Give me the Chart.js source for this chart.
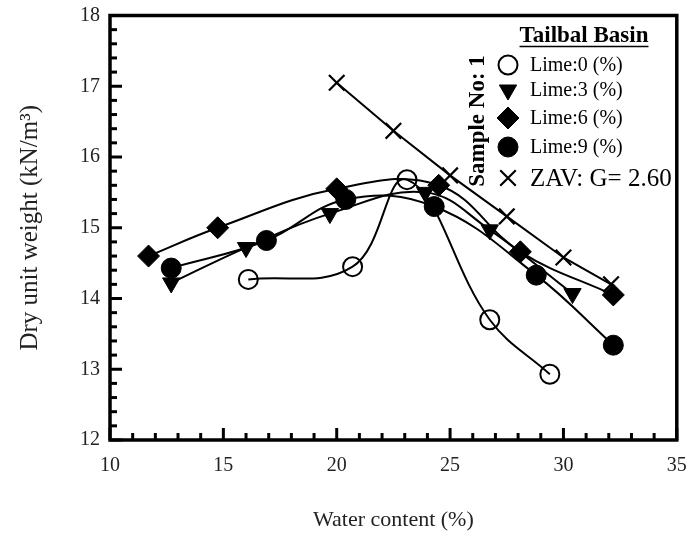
<!DOCTYPE html>
<html><head><meta charset="utf-8">
<script src="https://cdn.jsdelivr.net/npm/chart.js@4.4.1/dist/chart.umd.min.js"></script>
<style>html,body{margin:0;padding:0;background:#fff}#wrap{width:690px;height:537px;position:relative}</style>
</head><body><div id="wrap"><canvas id="c"></canvas></div>
<script>
// ---- data ----
const lime0X = [16.1, 20.7, 23.1, 26.75, 29.4];
const lime0Y = [14.27, 14.45, 15.68, 13.70, 12.93];
const lime3X = [12.7, 16.0, 19.7, 23.9, 26.75, 30.4];
const lime3Y = [14.22, 14.72, 15.2, 15.5, 14.97, 14.07];
const lime6X = [11.7, 14.75, 20.0, 24.5, 28.1, 32.2];
const lime6Y = [14.6, 15.0, 15.55, 15.6, 14.66, 14.05];
const lime9X = [12.7, 16.9, 20.4, 24.3, 28.8, 32.2];
const lime9Y = [14.43, 14.82, 15.4, 15.3, 14.33, 13.34];
const zavX = [20.0, 22.5, 25.0, 27.5, 30.0, 32.1];
const zavY = [17.05, 16.37, 15.74, 15.16, 14.58, 14.2];
const xTicks = [10, 15, 20, 25, 30, 35];
const yTicks = [12, 13, 14, 15, 16, 17, 18];
const seriesLabels = ['Lime:0 (%)', 'Lime:3 (%)', 'Lime:6 (%)', 'Lime:9 (%)', 'ZAV: G= 2.60'];
const legendTitle = 'Tailbal Basin';
const sampleLabel = 'Sample No: 1';
const xTitle = 'Water content (%)';
const yTitle = 'Dry unit weight (kN/m\u00B3)';

const FONT = "'Liberation Serif', 'Times New Roman', serif";
const pts = (xs, ys) => xs.map((x, i) => ({x: x, y: ys[i]}));

const styles = [
  {pointStyle: 'circle', radius: 9.5, rotation: 0, bg: 'rgba(0,0,0,0)', bw: 2},
  {pointStyle: 'triangle', radius: 10, rotation: 180, bg: '#000', bw: 1},
  {pointStyle: 'rectRot', radius: 11, rotation: 0, bg: '#000', bw: 1},
  {pointStyle: 'circle', radius: 10, rotation: 0, bg: '#000', bw: 1},
  {pointStyle: 'crossRot', radius: 11, rotation: 0, bg: '#000', bw: 2.2}
];
const seriesData = [pts(lime0X, lime0Y), pts(lime3X, lime3Y), pts(lime6X, lime6Y), pts(lime9X, lime9Y), pts(zavX, zavY)];

const datasets = seriesData.map((d, i) => ({
  label: seriesLabels[i],
  data: d,
  showLine: true,
  borderColor: '#000',
  borderWidth: 2,
  tension: i === 4 ? 0 : 0.4,
  pointStyle: styles[i].pointStyle,
  pointRadius: styles[i].radius,
  pointRotation: styles[i].rotation,
  pointBackgroundColor: styles[i].bg,
  pointBorderColor: '#000',
  pointBorderWidth: styles[i].bw,
  fill: false
}));

const frameTicks = {
  id: 'frameTicks',
  afterDatasetsDraw(chart) {
    const {ctx, chartArea: a, scales: {x, y}} = chart;
    ctx.save();
    ctx.strokeStyle = '#000';
    ctx.lineCap = 'butt';
    for (let v = 10; v <= 35; v += 1) {
      const px = x.getPixelForValue(v);
      const major = v % 5 === 0;
      ctx.lineWidth = 3;
      ctx.beginPath();
      ctx.moveTo(px, a.bottom);
      ctx.lineTo(px, a.bottom - (major ? 12 : 7));
      ctx.stroke();
    }
    for (let k = 0; k <= 30; k++) {
      const v = 12 + k * 0.2;
      const py = y.getPixelForValue(v);
      const major = k % 5 === 0;
      ctx.lineWidth = 3;
      ctx.beginPath();
      ctx.moveTo(a.left, py);
      ctx.lineTo(a.left + (major ? 12 : 7), py);
      ctx.stroke();
    }
    ctx.lineWidth = 3.5;
    ctx.strokeRect(a.left, a.top, a.right - a.left, a.bottom - a.top);
    ctx.restore();
  }
};

const customLegend = {
  id: 'customLegend',
  afterDatasetsDraw(chart) {
    const ctx = chart.ctx;
    ctx.save();
    ctx.fillStyle = '#000';
    ctx.font = "bold 23px " + FONT;
    ctx.textAlign = 'center';
    ctx.textBaseline = 'middle';
    ctx.fillText(legendTitle, 584, 36);
    const w = ctx.measureText(legendTitle).width;
    ctx.lineWidth = 1.5;
    ctx.beginPath();
    ctx.moveTo(584 - w / 2, 46.5);
    ctx.lineTo(584 + w / 2, 46.5);
    ctx.stroke();
    ctx.save();
    ctx.translate(478, 121);
    ctx.rotate(-Math.PI / 2);
    ctx.font = "bold 23px " + FONT;
    ctx.fillText(sampleLabel, 0, 0);
    ctx.restore();
    const rows = [65, 90, 118, 147, 178];
    ctx.textAlign = 'left';
    rows.forEach((ry, i) => {
      const s = styles[i];
      ctx.fillStyle = s.bg === '#000' ? '#000' : 'rgba(0,0,0,0)';
      ctx.strokeStyle = '#000';
      ctx.lineWidth = s.bw;
      Chart.helpers.drawPoint(ctx, {pointStyle: s.pointStyle, radius: s.radius, rotation: s.rotation, borderWidth: s.bw}, 508, ry);
      ctx.fillStyle = '#000';
      ctx.font = (i === 4 ? "25px " : "20px ") + FONT;
      ctx.fillText(seriesLabels[i], 530, ry + 1);
    });
    ctx.restore();
  }
};

new Chart(document.getElementById('c'), {
  type: 'scatter',
  data: {datasets: datasets},
  options: {
    responsive: true,
    maintainAspectRatio: false,
    animation: false,
    layout: {padding: {left: 0, right: 13, top: 15.5, bottom: 0}},
    plugins: {legend: {display: false}, tooltip: {enabled: false}},
    scales: {
      x: {
        type: 'linear', min: 10, max: 35,
        afterBuildTicks: s => { s.ticks = xTicks.map(v => ({value: v})); },
        afterFit: s => { s.height = 97; s.paddingLeft = 0; s.paddingRight = 0; },
        grid: {display: false, drawTicks: false},
        border: {display: false},
        ticks: {color: '#222', font: {family: FONT, size: 20}, padding: 14, maxRotation: 0},
        title: {display: true, text: xTitle, color: '#222', font: {family: FONT, size: 22}, padding: {top: 0, bottom: 4}}
      },
      y: {
        type: 'linear', min: 12, max: 18,
        afterBuildTicks: s => { s.ticks = yTicks.map(v => ({value: v})); },
        afterFit: s => { s.width = 110; s.paddingTop = 0; s.paddingBottom = 0; },
        grid: {display: false, drawTicks: false},
        border: {display: false},
        ticks: {color: '#222', font: {family: FONT, size: 20}, padding: 10},
        title: {display: true, text: yTitle, color: '#222', font: {family: FONT, size: 25}, padding: {top: 15, bottom: 0}}
      }
    }
  },
  plugins: [frameTicks, customLegend]
});
</script>
</body></html>
